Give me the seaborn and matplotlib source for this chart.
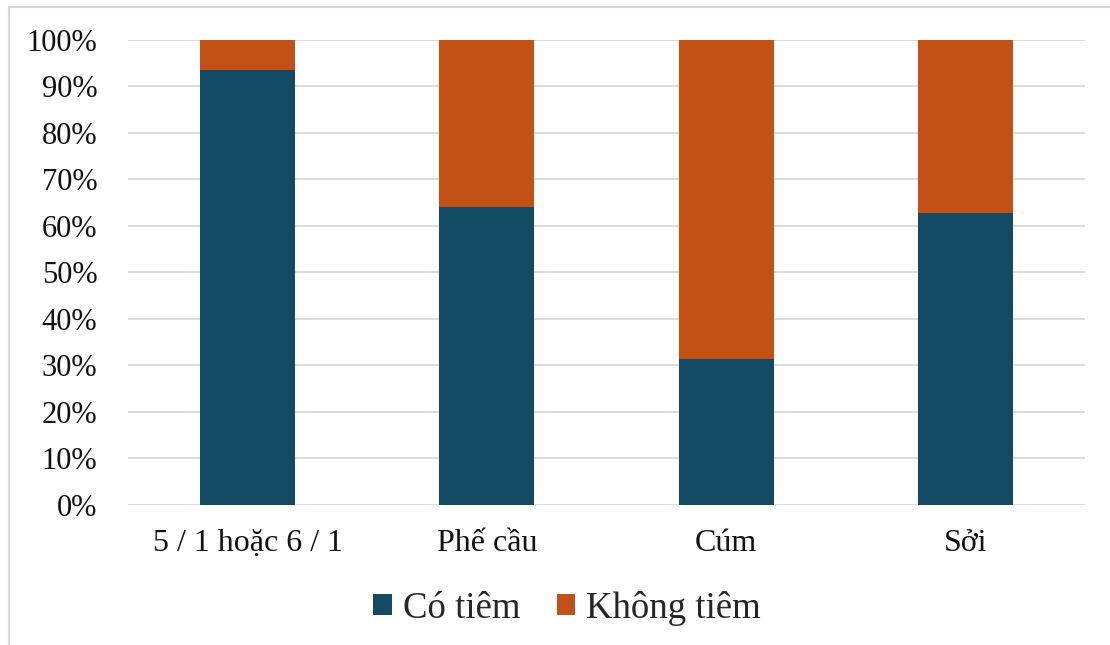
import pandas as pd
import matplotlib.pyplot as plt
import seaborn as sns
from matplotlib.patches import Patch, Rectangle

# ------------------------
# Data
# ------------------------
categories = ["5 / 1 hoặc 6 / 1", "Phế cầu", "Cúm", "Sởi"]
co_tiem = [93.5, 64.0, 31.3, 62.8]          # % vaccinated
khong_tiem = [100 - v for v in co_tiem]     # % not vaccinated
series_names = ["Có tiêm", "Không tiêm"]
ytick_labels = [f"{v}%" for v in range(0, 101, 10)]

BLUE = "#134a63"
ORANGE = "#c35016"

df = pd.DataFrame({"cat": categories, "co": co_tiem, "khong": khong_tiem})
df["total"] = df["co"] + df["khong"]

sns.set_style("white")
plt.rcParams["font.family"] = ["Liberation Serif", "DejaVu Serif"]

fig = plt.figure(figsize=(11.1, 6.45), dpi=100)
ax = fig.add_axes([0.1153, 0.2171, 0.8622, 0.7209])

# stacked: draw totals (orange) first, then blue portion on top
sns.barplot(data=df, x="cat", y="total", color=ORANGE, width=0.397,
            saturation=1, ax=ax, zorder=2, linewidth=0)
sns.barplot(data=df, x="cat", y="co", color=BLUE, width=0.397,
            saturation=1, ax=ax, zorder=3, linewidth=0)

ax.set_ylim(0, 100)
ax.set_xlim(-0.5, len(categories) - 0.5)
ax.set_yticks(range(0, 101, 10))
ax.set_yticklabels(ytick_labels)
ax.yaxis.grid(True, color="#d9d9d9", linewidth=1.3, zorder=0)
ax.set_axisbelow(True)
for s in ax.spines.values():
    s.set_visible(False)
ax.set_xlabel("")
ax.set_ylabel("")
ax.tick_params(axis="y", length=0, pad=22, labelsize=22, labelcolor="#111111")
ax.tick_params(axis="x", length=0, pad=17, labelsize=23, labelcolor="#111111")

# legend at bottom
handles = [Patch(facecolor=BLUE, edgecolor="none"),
           Patch(facecolor=ORANGE, edgecolor="none")]
fig.legend(handles, series_names, loc="center", bbox_to_anchor=(0.511, 0.057),
           ncol=2, frameon=False, fontsize=26.5, handlelength=0.5,
           handleheight=0.5, handletextpad=0.3, columnspacing=1.0)

# light border (left/top visible)
fig.patches.append(Rectangle((0.0081, -0.2), 1.5, 1.189, transform=fig.transFigure,
                             fill=False, edgecolor="#d9d9d9", linewidth=1.5))

fig.savefig("out.png", dpi=100, facecolor="white")
